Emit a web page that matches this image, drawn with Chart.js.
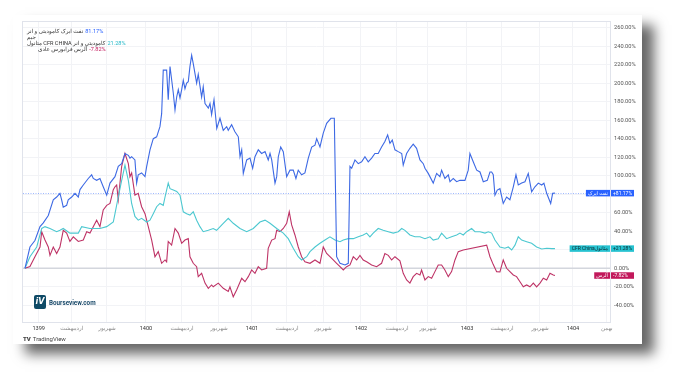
<!DOCTYPE html>
<html>
<head>
<meta charset="utf-8">
<script src="https://cdn.jsdelivr.net/npm/chart.js@4.4.1/dist/chart.umd.min.js"></script>
<style>
  html, body { margin: 0; padding: 0; background: #fff; }
  body { width: 687px; height: 387px; position: relative; overflow: hidden; font-family: "Roboto", "DejaVu Sans", sans-serif; }
  #card { position: absolute; left: 13px; top: 15px; width: 629px; height: 329px; background: #fff;
          box-shadow: 12px 10px 12px rgba(0,0,0,0.6); }
  #chart { position: absolute; left: 0; top: 0; }
  .legend { position: absolute; left: 27px; font-size: 5.6px; line-height: 6px; color: #333; white-space: nowrap; }
  .legend span.v { margin-left: 2px; }
  #bv { position: absolute; left: 34px; top: 295px; width: 12px; height: 14px; background: #0e4a66; border-radius: 2px;
        color: #fff; font: italic bold 8px "DejaVu Sans", sans-serif; text-align: center; line-height: 14px; }
  #bvText { position: absolute; left: 49px; top: 299px; font: bold 6.3px "Roboto", sans-serif; color: #1b4b6b; }
  #tv { position: absolute; left: 23px; top: 335px; font: 6px "Roboto", sans-serif; color: #444; }
  #tv b { font-weight: 900; margin-right: 2px; }
</style>
</head>
<body>
<div id="card"></div>
<canvas id="chart" width="687" height="387"></canvas>
<div class="legend" style="top:28px"><span dir="rtl">نفت ایرک کامودیتی و انر</span><span class="v" style="color:#2962ff">81.17%</span></div>
<div class="legend" style="top:34px"><span dir="rtl">جیم</span></div>
<div class="legend" style="top:40px"><span dir="rtl">کامودیتی و انر CFR CHINA متانول</span><span class="v" style="color:#22b8c8">21.28%</span></div>
<div class="legend" style="top:46px;left:38px"><span dir="rtl">آلرس فرابورس عادی</span><span class="v" style="color:#c2185b">-7.82%</span></div>
<div id="bv">iV</div>
<div id="bvText">Bourseview.com</div>
<div id="tv"><b>TV</b>TradingView</div>
<script>
"use strict";

// x positions are months counted from the start of 1399
const tickPos = [0, 3.71, 7.67, 12.05, 16.09, 20.24, 23.95, 27.88, 31.93, 36.19, 40.23, 43.72, 48.1, 52.03, 56.29, 60.0, 63.8];
const tickLabels = ["1399", "اردیبهشت", "شهریور", "1400", "اردیبهشت", "شهریور", "1401", "اردیبهشت", "شهریور",
                    "1402", "اردیبهشت", "شهریور", "1403", "اردیبهشت", "شهریور", "1404", "بهمن"];

// نفت ایرک
const naftX = [-1.54, -0.98, -0.42, 0.15, 0.52, 1.08, 1.64, 2.02, 2.39, 2.58, 2.76, 3.14, 3.32, 3.71, 4.08, 4.45, 4.64, 5.01, 5.57, 5.95,
  6.13, 6.51, 6.88, 7.25, 7.64, 8.01, 8.57, 8.94, 9.32, 9.69, 10.07, 10.25, 10.44, 10.81, 11.0, 11.18, 11.56, 11.94, 12.13, 12.5,
  12.87, 13.25, 13.62, 13.81, 13.99, 14.37, 14.55, 14.75, 15.12, 15.31, 15.5, 15.68, 15.87, 16.06, 16.24, 16.43, 16.62, 16.8, 16.99, 17.18,
  17.36, 17.55, 17.74, 17.92, 18.3, 18.48, 18.68, 19.05, 19.24, 19.42, 19.69, 20.0, 20.36, 20.73, 21.11, 21.29, 21.67, 22.04, 22.42, 22.61,
  22.8, 22.98, 23.36, 23.73, 24.03, 24.29, 24.66, 25.04, 25.42, 25.78, 25.98, 26.17, 26.54, 26.73, 26.91, 27.18, 27.47, 27.85, 28.22, 28.59,
  28.89, 29.15, 29.53, 29.9, 30.28, 30.66, 31.03, 31.22, 31.59, 31.96, 32.34, 32.82, 33.2, 33.46, 33.84, 34.4, 34.77, 34.96, 35.15, 35.52,
  35.89, 36.27, 36.64, 37.01, 37.39, 37.76, 38.13, 38.51, 38.88, 39.19, 39.45, 39.71, 40.01, 40.38, 40.77, 40.94, 41.32, 41.69, 42.06, 42.44,
  42.82, 43.19, 43.38, 43.75, 44.31, 44.69, 45.06, 45.25, 45.62, 46.0, 46.19, 46.56, 46.94, 47.31, 47.87, 48.24, 48.43, 48.8, 49.19, 49.56,
  49.93, 50.38, 50.68, 50.87, 51.05, 51.24, 51.5, 51.8, 52.17, 52.55, 52.92, 53.3, 53.6, 53.86, 54.24, 54.61, 54.98, 55.36, 55.73, 56.11,
  56.49, 56.74, 57.05, 57.5, 57.72, 57.98];
const naftY = [0, 23, 30, 45, 49, 57, 74, 77, 81, 74, 66, 68, 74, 77, 81, 77, 85, 90, 97, 101,
  97, 95, 97, 88, 79, 92, 99, 110, 113, 124, 122, 119, 120.5, 117, 92, 101, 103, 99, 110, 128,
  140, 142, 153, 167, 214, 214, 182, 218, 189, 171, 185, 193, 184, 193, 203, 194, 200, 201.5, 218, 230,
  221, 210.5, 200, 209.5, 185, 196, 178, 173, 178, 166, 182, 151, 162, 149, 153, 149, 155, 147.5, 142, 120.5,
  128, 102.5, 117, 119, 108, 120.5, 128, 124, 126, 117, 124, 117, 92, 99, 120.5, 131, 126, 99, 106, 106,
  97, 106, 101, 103, 119, 131, 133, 140, 131, 146, 156.6, 162, 162, 12.5, 5.4, 3.6, 5.4, 110, 108, 117,
  113, 115, 120.5, 115, 119, 124, 124, 131, 137, 144, 135, 138.5, 128, 126, 124, 111.5, 124, 129.6, 134, 129.6,
  117, 113, 108, 102.5, 92, 102.5, 99, 106, 97, 101, 93.5, 97, 93.5, 95, 95, 106, 124, 115, 106, 104,
  93.5, 95, 104, 104, 101, 79, 84.5, 86, 70, 77, 74, 88, 101, 90, 92, 93.5, 102.5, 82.7, 88, 92,
  90, 92, 81, 70, 81, 81.17];

// CFR China متانول
const methX = [-1.54, -0.98, -0.22, 0.34, 0.71, 1.27, 2.02, 2.39, 2.76, 3.51, 4.45, 4.83, 5.76, 6.88, 7.64, 8.38, 8.57, 8.94, 9.32, 9.69,
  10.07, 10.44, 10.81, 11.18, 11.56, 12.13, 12.5, 12.87, 13.25, 13.62, 13.99, 14.19, 14.55, 14.75, 15.12, 15.5, 15.87, 16.24, 16.62, 16.99,
  17.36, 17.74, 18.11, 18.48, 19.05, 19.6, 19.98, 20.73, 21.29, 21.85, 22.61, 23.36, 24.1, 24.85, 25.42, 25.98, 26.73, 27.47, 28.03, 28.59,
  29.15, 29.53, 30.1, 30.47, 31.03, 31.59, 32.15, 32.71, 33.27, 33.84, 34.21, 34.77, 35.33, 35.89, 36.45, 36.83, 37.2, 37.57, 38.13, 38.69,
  39.26, 39.82, 40.38, 40.77, 41.13, 41.69, 42.26, 42.82, 43.38, 43.94, 44.31, 44.87, 45.25, 45.81, 46.37, 46.94, 47.31, 47.68, 48.06, 48.62,
  49.0, 49.56, 50.12, 50.5, 50.87, 51.24, 51.8, 52.36, 52.74, 53.12, 53.49, 53.86, 54.24, 54.8, 55.36, 55.92, 56.49, 57.05, 57.61, 57.98];
const methY = [0, 12.5, 23, 43, 45, 43, 39.5, 41, 43, 38, 38, 45, 43, 43, 45, 50, 59, 77, 95, 111.5,
  95, 70, 56, 52, 54, 50, 52, 59, 66.5, 70, 68, 77, 92, 86, 84.5, 83, 79, 61, 59, 57.5,
  61, 52, 45, 39.5, 41, 43, 41, 48.6, 54, 48.6, 43, 39.5, 43, 50, 52, 48.6, 43, 38, 32, 21.6,
  12.5, 9, 12.5, 18, 23, 27, 30.5, 34, 30.5, 28.7, 30.5, 32, 32, 34, 36, 38, 34, 38, 43, 41,
  39.5, 38, 39.5, 43, 41, 36, 34, 34, 32, 34, 30.5, 32, 38, 32, 34, 36, 38, 36, 39.5, 43,
  39.5, 39.5, 38, 39.5, 38, 30.5, 23, 21.6, 23, 19.8, 25, 34, 30.5, 28.7, 27, 23, 20.8, 21.6, 21.2, 21.28];

// آلرس
const alrsX = [-1.54, -0.98, -0.42, 0.15, 0.34, 0.71, 1.08, 1.27, 1.64, 2.02, 2.39, 2.76, 3.14, 3.51, 3.89, 4.45, 5.01, 5.39, 5.76, 6.13,
  6.51, 6.88, 7.25, 7.64, 8.01, 8.38, 8.57, 8.76, 8.94, 9.32, 9.69, 10.07, 10.25, 10.44, 10.81, 11.18, 11.56, 11.94, 12.31, 12.69,
  13.06, 13.43, 13.81, 14.19, 14.37, 14.55, 14.93, 15.31, 15.68, 16.06, 16.43, 16.8, 16.99, 17.36, 17.74, 17.92, 18.3, 18.68, 19.05, 19.42,
  19.6, 20.17, 20.73, 21.29, 21.48, 21.85, 22.23, 22.8, 23.17, 23.54, 23.92, 24.29, 24.66, 25.04, 25.6, 25.78, 26.17, 26.54, 26.73, 27.1,
  27.47, 27.85, 28.14, 28.41, 28.78, 29.15, 29.53, 29.9, 30.47, 31.03, 31.59, 31.96, 32.34, 32.71, 33.08, 33.46, 33.84, 34.21, 34.58, 34.96,
  35.33, 35.71, 36.08, 36.45, 36.83, 37.39, 37.95, 38.51, 38.88, 39.26, 39.64, 40.01, 40.57, 40.94, 41.32, 41.69, 42.06, 42.44, 42.82, 43.0,
  43.38, 43.75, 44.13, 44.5, 44.87, 45.25, 45.62, 46.0, 46.37, 46.75, 47.12, 47.68, 50.31, 50.68, 51.05, 51.43, 51.8, 52.17, 52.55, 52.92,
  53.3, 53.67, 54.05, 54.42, 54.8, 55.17, 55.55, 55.92, 56.3, 56.67, 57.05, 57.42, 57.79, 57.98];
const alrsY = [0, 2, 12.5, 23, 39.5, 30.5, 23, 14, 23, 16, 23, 41, 38, 29, 34, 29, 30.5, 39.5, 38, 45,
  52, 45, 63, 68, 70, 85, 88, 90, 74, 110, 124, 113, 99, 103, 79, 81, 66.5, 59, 45, 30.5,
  12.5, 18, 5.4, 9, 7, 29, 25, 43, 38, 27, 30.5, 32, 12.5, 5.4, 1.7, -9, -5.4, -16, -21.6, -18,
  -20, -16, -21.6, -25, -20, -30.7, -23.4, -10.8, -14.5, -9, -1.8, -5.4, 1.7, -1.8, 0, 21.6, 30.5, 32, 41, 39.5,
  43, 48.6, 61, 46.8, 36, 23, 12.5, 7, 5.4, 9, 5.4, 23, 16, 12.5, 9, 5.4, 1.7, -1.8, 1.7, 3.6,
  12.5, 9, 14, 9, 7, 3.6, 1.7, 5.4, 16, 14, 9, 12.5, 8, -5.4, -12.6, -16, -9, -5.4, -7.2, -1.8,
  -12.6, -9, -10.8, -3.6, 3.6, 3.6, -1.8, -9, -3.6, 9, 18, 19.8, 25, 12.5, 4, -3.6, -4, 9, 0, -3.6,
  -7.2, -9, -14.5, -20, -18, -20, -16, -20, -16, -10.8, -12.6, -5.4, -7.2, -7.82];

const seriesNames = ["نفت ایرک", "CFR Chinaمتانول", "آلرس"];
const lastValues = [81.17, 21.28, -7.82];
const seriesColors = ["#3d69e4", "#4cc8d0", "#be3366"];
const tagColors = ["#2962ff", "#26c2d0", "#c2185b"];

function toPoints(xs, ys) {
  return xs.map((x, i) => ({ x: x, y: ys[i] }));
}

function fmtPct(v) {
  return (v > 0 ? "+" : "") + v.toFixed(2) + "%";
}

const overlayPlugin = {
  id: "overlay",
  beforeDatasetsDraw(chart) {
    const ctx = chart.ctx;
    const area = chart.chartArea;
    const yScale = chart.scales.y;
    // plot frame
    ctx.save();
    ctx.strokeStyle = "#e0e3eb";
    ctx.lineWidth = 1;
    ctx.strokeRect(area.left - 0.5, area.top - 0.5, area.right - area.left + 1, area.bottom - area.top + 1);
    // zero line
    ctx.strokeStyle = "#d3d6dd";
    ctx.lineWidth = 1.5;
    const y0 = yScale.getPixelForValue(0);
    ctx.beginPath();
    ctx.moveTo(area.left, y0);
    ctx.lineTo(area.right, y0);
    ctx.stroke();
    // last value line of the first series
    ctx.strokeStyle = "rgba(41,98,255,0.45)";
    ctx.lineWidth = 1;
    ctx.setLineDash([1, 1.5]);
    const yl = Math.round(yScale.getPixelForValue(lastValues[0])) + 0.5;
    ctx.beginPath();
    ctx.moveTo(area.left, yl);
    ctx.lineTo(area.right, yl);
    ctx.stroke();
    ctx.restore();
  },
  afterDraw(chart) {
    const ctx = chart.ctx;
    const area = chart.chartArea;
    const yScale = chart.scales.y;
    ctx.save();
    ctx.font = "5px Roboto, 'DejaVu Sans', sans-serif";
    ctx.textBaseline = "middle";
    lastValues.forEach((v, i) => {
      const y = yScale.getPixelForValue(v);
      const h = 6.5;
      const valW = 23;
      ctx.fillStyle = tagColors[i];
      ctx.fillRect(area.right + 1, y - h / 2, valW, h);
      const nameW = ctx.measureText(seriesNames[i]).width + 4;
      ctx.fillRect(area.right - nameW, y - h / 2, nameW, h);
      ctx.fillStyle = i === 1 ? "#0b2b33" : "#fff";
      ctx.textAlign = "left";
      ctx.fillText(fmtPct(v), area.right + 3, y + 0.3);
      ctx.textAlign = "center";
      ctx.fillText(seriesNames[i], area.right - nameW / 2, y + 0.3);
    });
    ctx.restore();
  }
};

const lineStyle = {
  borderWidth: 1.1,
  pointRadius: 0,
  tension: 0,
  fill: false
};

new Chart(document.getElementById("chart"), {
  type: "line",
  data: {
    datasets: [
      { ...lineStyle, label: seriesNames[0], borderColor: seriesColors[0], data: toPoints(naftX, naftY) },
      { ...lineStyle, label: seriesNames[1], borderColor: seriesColors[1], data: toPoints(methX, methY) },
      { ...lineStyle, label: seriesNames[2], borderColor: seriesColors[2], data: toPoints(alrsX, alrsY) }
    ]
  },
  options: {
    responsive: false,
    animation: false,
    devicePixelRatio: 1,
    layout: { padding: { left: 23, top: 22, right: 0, bottom: 0 } },
    plugins: {
      legend: { display: false },
      tooltip: { enabled: false }
    },
    scales: {
      x: {
        type: "linear",
        min: -1.76,
        max: 64.16,
        afterBuildTicks: (axis) => { axis.ticks = tickPos.map(v => ({ value: v })); },
        afterFit: (axis) => { axis.height = 65; },
        grid: { color: "#f2f3f6", drawTicks: false },
        border: { display: false },
        ticks: {
          autoSkip: false,
          maxRotation: 0,
          padding: 3,
          font: { size: 5.6, family: "Roboto, 'DejaVu Sans', sans-serif" },
          color: (c) => (c.index % 3 === 0 ? "#333" : "#888"),
          callback: (v, i) => tickLabels[i]
        }
      },
      y: {
        position: "right",
        min: -58,
        max: 266,
        afterFit: (axis) => { axis.width = 77; },
        grid: { color: "#f2f3f6", drawTicks: false },
        border: { display: false },
        ticks: {
          stepSize: 20,
          includeBounds: false,
          padding: 4,
          font: { size: 5.7, family: "Roboto, sans-serif" },
          color: "#555",
          callback: (v) => v.toFixed(2) + "%"
        }
      }
    }
  },
  plugins: [overlayPlugin]
});
</script>
</body>
</html>
